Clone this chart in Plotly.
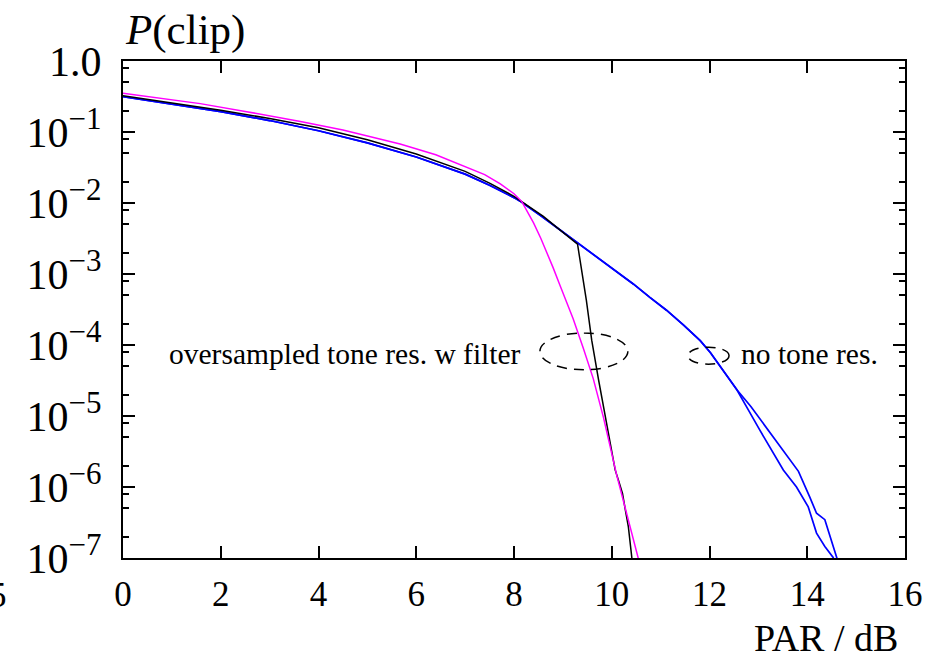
import plotly.graph_objects as go

# PAR in dB and clipping probability P(clip)
par_magenta = [0, 1, 1.58, 2.5, 3.63, 4.5, 5.67, 6.4, 7.03, 7.4, 7.72, 8.0, 8.16, 8.28, 8.40, 8.55, 8.67, 8.80,
               8.94, 9.08, 9.21, 9.42, 9.62, 9.83, 9.97, 10.1, 10.24, 10.44, 10.56]
p_magenta = [0.351, 0.288, 0.251, 0.195, 0.141, 0.107, 0.0676, 0.0479, 0.0324, 0.0251, 0.0186, 0.0135, 0.01047,
             7.59e-3, 5.25e-3, 3.16e-3, 2.04e-3, 1.23e-3, 6.92e-4, 3.98e-4, 2.34e-4, 8.91e-5, 3.39e-5, 9.55e-6,
             3.55e-6, 1.48e-6, 6.31e-7, 1.78e-7, 8.9e-8]

par_black = [0, 1, 2, 3, 4, 5, 6, 7, 7.5, 8.0, 8.16, 8.4, 8.6, 8.85, 9.08, 9.30, 9.48, 9.59, 9.73, 9.88,
             9.97, 10.07, 10.15, 10.22, 10.28, 10.34, 10.41, 10.43]
p_black = [0.324, 0.257, 0.202, 0.155, 0.115, 0.0776, 0.0490, 0.0279, 0.0191, 0.0124, 0.01035,
           8.13e-3, 6.46e-3, 4.68e-3, 3.47e-3, 2.63e-3, 4.27e-4, 1.17e-4, 3.24e-5, 8.71e-6,
           3.98e-6, 1.74e-6, 1.17e-6, 8.13e-7, 4.68e-7, 2.75e-7, 1.02e-7, 8.0e-8]

par_blue_a = [0, 1, 2, 3, 4, 5, 6, 7, 7.5, 8.0, 8.16, 8.55, 8.94, 9.35, 9.76, 10.1, 10.44, 10.78, 11.12,
              11.47, 11.81, 12.02, 12.22, 12.40, 12.56, 12.85, 13.10, 13.51, 13.82, 14.05, 14.19, 14.36, 14.60, 14.65]
p_blue_a = [0.314, 0.249, 0.194, 0.145, 0.104, 0.0703, 0.0444, 0.0255, 0.0178, 0.0119, 0.01023,
            6.61e-3, 4.17e-3, 2.63e-3, 1.62e-3, 1.07e-3, 7.24e-4, 4.68e-4, 3.09e-4, 1.91e-4, 1.15e-4,
            7.76e-5, 5.01e-5, 3.39e-5, 2.34e-5, 1.35e-5, 7.94e-6, 3.31e-6, 1.66e-6, 7.24e-7, 4.27e-7,
            3.47e-7, 1.02e-7, 8.0e-8]

par_blue_b = [0, 1, 2, 3, 4, 5, 6, 7, 7.5, 8.0, 8.16, 8.55, 8.94, 9.35, 9.76, 10.1, 10.44, 10.78, 11.12,
              11.47, 11.81, 12.02, 12.22, 12.40, 12.56, 12.80, 13.03, 13.51, 13.78, 14.02, 14.19, 14.36, 14.53, 14.58]
p_blue_b = [0.314, 0.249, 0.194, 0.145, 0.104, 0.0703, 0.0444, 0.0255, 0.0178, 0.0119, 0.01023,
            6.61e-3, 4.17e-3, 2.63e-3, 1.62e-3, 1.07e-3, 7.24e-4, 4.68e-4, 3.09e-4, 1.91e-4, 1.15e-4,
            7.76e-5, 5.01e-5, 3.39e-5, 2.34e-5, 1.20e-5, 6.31e-6, 1.74e-6, 1.0e-6, 5.25e-7, 2.24e-7,
            1.45e-7, 1.02e-7, 8.0e-8]

x_ticks = [0, 2, 4, 6, 8, 10, 12, 14, 16]
y_ticks = [1, 1e-1, 1e-2, 1e-3, 1e-4, 1e-5, 1e-6, 1e-7]
y_exponents = ["", "−1", "−2", "−3", "−4", "−5", "−6", "−7"]
y_minor = [m * 10.0 ** (-d) for d in range(0, 7) for m in (0.8, 0.5, 0.2)]

# dashed ellipses marking the curve groups: (x0, x1, y0, y1)
ellipse_tone = (8.53, 10.33, 4.47e-5, 1.48e-4)
ellipse_none = (11.56, 12.40, 5.37e-5, 9.33e-5)

label_tone = "oversampled tone res. w filter"
label_none = "no tone res."

FONT = "Liberation Serif"

y_ticktext = ["1.0"] + ["10<sup><span style='font-size:31px'>%s</span></sup>" % e for e in y_exponents[1:]]

fig = go.Figure()
fig.add_trace(go.Scatter(x=par_blue_a, y=p_blue_a, mode="lines", line=dict(color="#0000ff", width=1.7), showlegend=False))
fig.add_trace(go.Scatter(x=par_blue_b, y=p_blue_b, mode="lines", line=dict(color="#0000ff", width=1.7), showlegend=False))
fig.add_trace(go.Scatter(x=par_black, y=p_black, mode="lines", line=dict(color="#000000", width=1.5), showlegend=False))
fig.add_trace(go.Scatter(x=par_magenta, y=p_magenta, mode="lines", line=dict(color="#ff00ff", width=1.5), showlegend=False))

for (x0, x1, y0, y1) in (ellipse_tone, ellipse_none):
    fig.add_shape(type="circle", xref="x", yref="y", x0=x0, x1=x1, y0=y0, y1=y1,
                  line=dict(color="black", width=1.5, dash="10px,7px"))

fig.add_annotation(x=8.19, y=-4.13, xref="x", yref="y", text=label_tone, showarrow=False,
                   xanchor="right", yanchor="middle", font=dict(family=FONT, size=29.5, color="black"))
fig.add_annotation(x=12.6, y=-4.13, xref="x", yref="y", text=label_none, showarrow=False,
                   xanchor="left", yanchor="middle", font=dict(family=FONT, size=29.5, color="black"))
fig.add_annotation(x=0.0, y=1.062, xref="paper", yref="paper", text="<i>P</i>(clip)", showarrow=False,
                   xanchor="left", yanchor="middle", font=dict(family=FONT, size=43, color="black"))
fig.add_annotation(x=0.9936, y=-0.16, xref="paper", yref="paper", text="PAR / dB", showarrow=False,
                   xanchor="right", yanchor="middle", font=dict(family=FONT, size=38, color="black"))
fig.add_annotation(x=-0.146, y=-0.0745, xref="paper", yref="paper", text="5", showarrow=False,
                   xanchor="right", yanchor="middle", font=dict(family=FONT, size=35, color="black"))

fig.update_layout(
    width=925, height=656,
    margin=dict(l=123, r=20, t=61, b=98, autoexpand=False),
    paper_bgcolor="white", plot_bgcolor="white",
    font=dict(family=FONT, color="black"),
    xaxis=dict(range=[0, 16], tickmode="array", tickvals=x_ticks, ticks="inside", ticklen=12,
               tickwidth=1.5, tickcolor="black", showline=True, linecolor="black", linewidth=2,
               mirror="ticks", showgrid=False, zeroline=False, tickfont=dict(size=35),
               ticklabelstandoff=4, automargin=False),
    yaxis=dict(type="log", range=[-7, 0], tickmode="array", tickvals=y_ticks, ticktext=y_ticktext,
               ticks="inside", ticklen=12, tickwidth=1.5, tickcolor="black", showline=True,
               linecolor="black", linewidth=2, mirror="ticks", showgrid=False, zeroline=False,
               tickfont=dict(size=42), ticklabelstandoff=11, automargin=False,
               minor=dict(tickmode="array", tickvals=y_minor, ticks="inside", ticklen=6,
                          tickwidth=1.5, tickcolor="black", showgrid=False)),
)

fig.write_html("out.html", config={"displayModeBar": False},
               post_script="document.body.style.margin='0px'; document.body.style.overflow='hidden';")
